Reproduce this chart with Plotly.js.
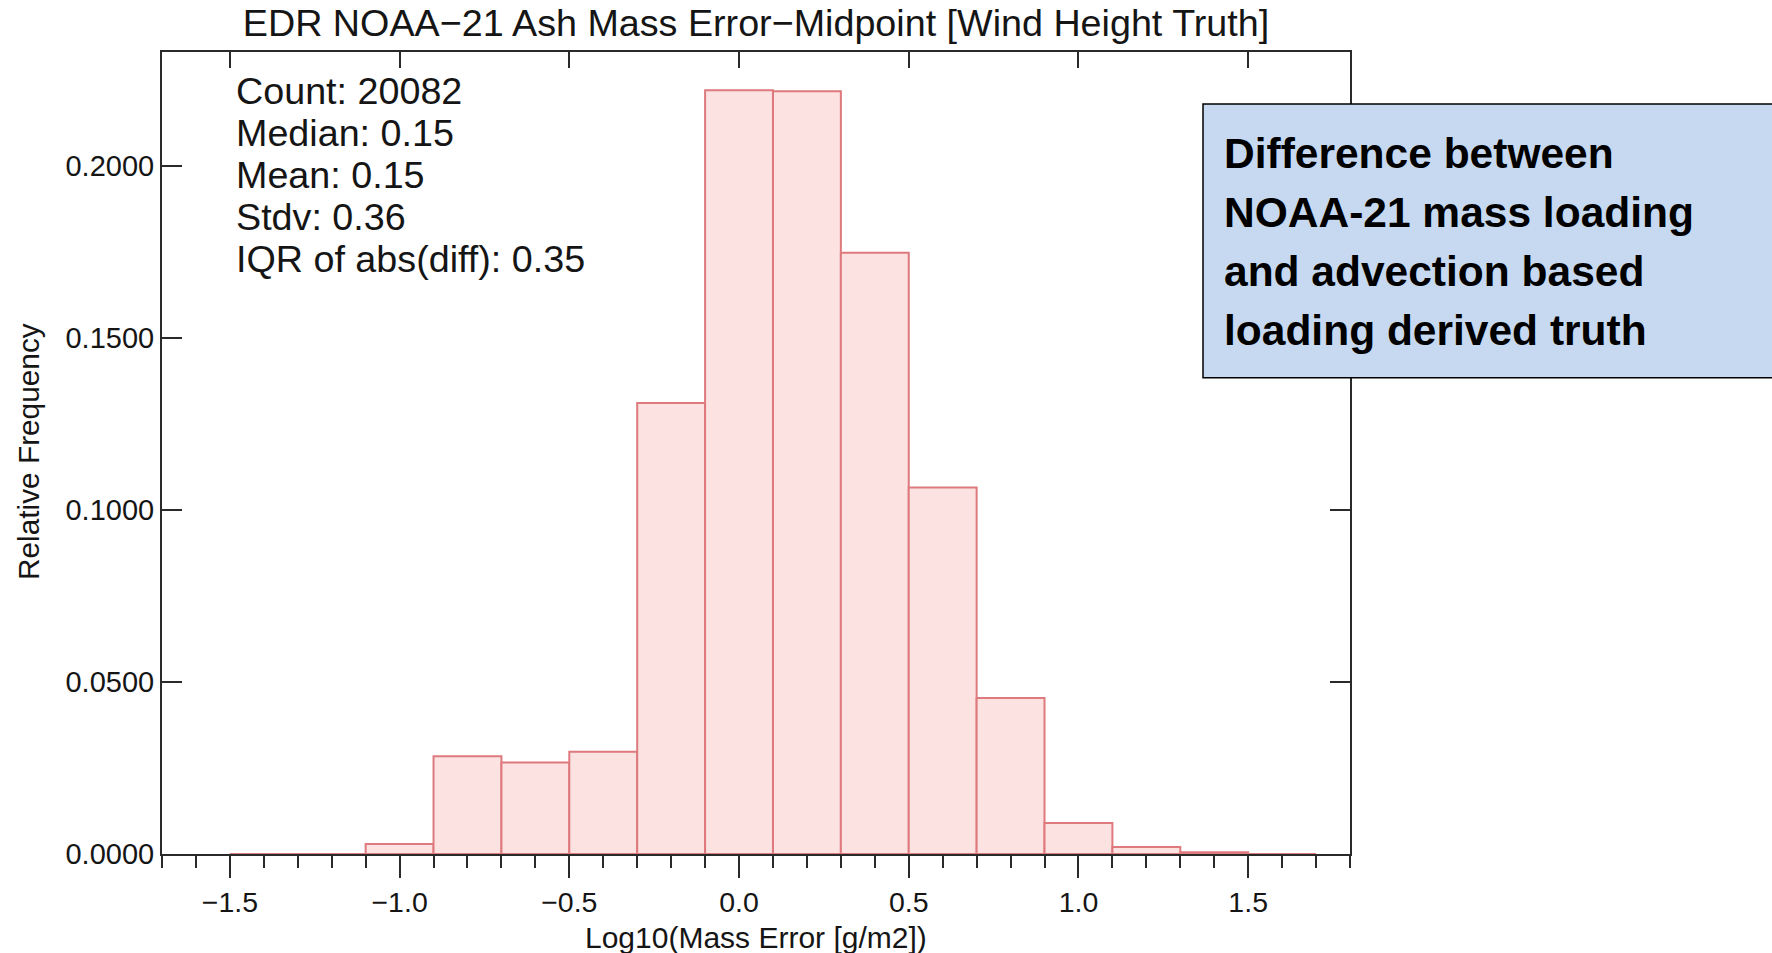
<!DOCTYPE html>
<html>
<head>
<meta charset="utf-8">
<script src="https://cdn.plot.ly/plotly-3.0.1.min.js"></script>
<style>
html,body{margin:0;padding:0;background:#ffffff;}
#chart{width:1772px;height:953px;}
</style>
</head>
<body>
<div id="chart"></div>
<script>
// ---- data ----
const binCenters = [-1.4, -1.2, -1.0, -0.8, -0.6, -0.4, -0.2, 0.0, 0.2, 0.4, 0.6, 0.8, 1.0, 1.2, 1.4, 1.6];
const relFreq    = [0, 0, 0.0029, 0.0284, 0.0266, 0.0297, 0.1310, 0.2219, 0.2216, 0.1747, 0.1065, 0.0453, 0.0090, 0.0020, 0.0005, 0];
const binWidth = 0.2;
const xTickVals = [-1.5, -1.0, -0.5, 0.0, 0.5, 1.0, 1.5];
const yTickVals = [0.00, 0.05, 0.10, 0.15, 0.20];
const chartTitle = 'EDR NOAA\u221221 Ash Mass Error\u2212Midpoint [Wind Height Truth]';
const xTitle = 'Log10(Mass Error [g/m2])';
const yTitle = 'Relative Frequency';
const statsLines = ['Count: 20082', 'Median: 0.15', 'Mean: 0.15', 'Stdv: 0.36', 'IQR of abs(diff): 0.35'];
const noteLines = ['Difference between', 'NOAA-21 mass loading', 'and advection based', 'loading derived truth'];

// ---- layout geometry (pixels) ----
const FONT = 'Liberation Sans, Arial, Helvetica, sans-serif';
const L = 162, T = 52, PW = 1188, PH = 802;
const px = x => (x - L) / PW;
const py = y => (T + PH - y) / PH;
const AX = '#2a2a2a';
const TXT = '#151515';

const traces = [
  {
    type: 'bar',
    x: binCenters,
    y: relFreq,
    width: binWidth,
    marker: {color: 'rgb(253,226,226)', line: {color: 'rgb(222,122,126)', width: 2}},
    cliponaxis: false,
    hoverinfo: 'x+y',
    showlegend: false
  },
  {
    type: 'scatter',
    mode: 'lines',
    xaxis: 'x2',
    yaxis: 'y',
    x: [binCenters[0] - binWidth / 2, binCenters[binCenters.length - 1] + binWidth / 2],
    y: [0, 0],
    line: {color: 'rgb(222,122,126)', width: 2},
    cliponaxis: false,
    hoverinfo: 'skip',
    showlegend: false
  }
];

const annotations = [];
statsLines.forEach((t, i) => {
  annotations.push({
    text: t, xref: 'paper', yref: 'paper', x: px(234), y: py(91 + i * 42),
    xanchor: 'left', yanchor: 'middle', showarrow: false,
    font: {family: FONT, size: 37.7, color: TXT}
  });
});
noteLines.forEach((t, i) => {
  annotations.push({
    text: '<b>' + t + '</b>', xref: 'paper', yref: 'paper', x: px(1222), y: py(154 + i * 58.8),
    xanchor: 'left', yanchor: 'middle', showarrow: false,
    font: {family: FONT, size: 42.5, color: '#000000'}
  });
});
annotations.push({
  text: yTitle, xref: 'paper', yref: 'paper', x: px(28), y: py(452),
  xanchor: 'center', yanchor: 'middle', textangle: -90, showarrow: false,
  font: {family: FONT, size: 29.8, color: TXT}
});
annotations.push({
  text: xTitle, xref: 'paper', yref: 'paper', x: 0.5, y: py(937),
  xanchor: 'center', yanchor: 'middle', showarrow: false,
  font: {family: FONT, size: 30, color: TXT}
});

const layout = {
  width: 1772, height: 953,
  paper_bgcolor: '#ffffff', plot_bgcolor: '#ffffff',
  margin: {l: L, r: 1772 - L - PW, t: T, b: 953 - T - PH, pad: 0},
  showlegend: false,
  bargap: 0,
  title: {
    text: chartTitle, font: {family: FONT, size: 37.7, color: TXT},
    x: 0.5, xref: 'paper', xanchor: 'center',
    y: 1 - 22.6 / 953, yref: 'container', yanchor: 'middle'
  },
  xaxis: {
    range: [-1.7, 1.8], tickmode: 'array', tickvals: xTickVals, tickformat: '.1f',
    ticks: 'outside', ticklen: 22, tickwidth: 2, tickcolor: AX,
    minor: {tickmode: 'linear', tick0: 0, dtick: 0.1, ticks: 'outside', ticklen: 12, tickwidth: 2, tickcolor: AX, showgrid: false},
    showline: true, linecolor: AX, linewidth: 2, mirror: true,
    showgrid: false, zeroline: false, layer: 'below traces',
    tickfont: {family: FONT, size: 28.5, color: TXT},
    fixedrange: true
  },
  xaxis2: {
    overlaying: 'x', side: 'top', range: [-1.7, 1.8],
    tickmode: 'array', tickvals: xTickVals,
    ticks: 'inside', ticklen: 16, tickwidth: 2, tickcolor: AX,
    showticklabels: false, showline: false, showgrid: false, zeroline: false,
    fixedrange: true
  },
  yaxis: {
    range: [0, 0.2330], tickmode: 'array', tickvals: yTickVals, tickformat: '.4f',
    ticks: 'inside', ticklen: 20, tickwidth: 2, tickcolor: AX,
    showline: true, linecolor: AX, linewidth: 2, mirror: 'ticks',
    showgrid: false, zeroline: false,
    tickfont: {family: FONT, size: 29, color: TXT},
    fixedrange: true
  },
  shapes: [{
    type: 'rect', xref: 'paper', yref: 'paper', layer: 'above',
    x0: px(1203), x1: px(1790), y0: py(377.7), y1: py(104),
    fillcolor: '#c6d9f0', line: {color: '#000000', width: 1.5}
  }],
  annotations: annotations
};

Plotly.newPlot('chart', traces, layout, {displayModeBar: false, staticPlot: true});
</script>
</body>
</html>
